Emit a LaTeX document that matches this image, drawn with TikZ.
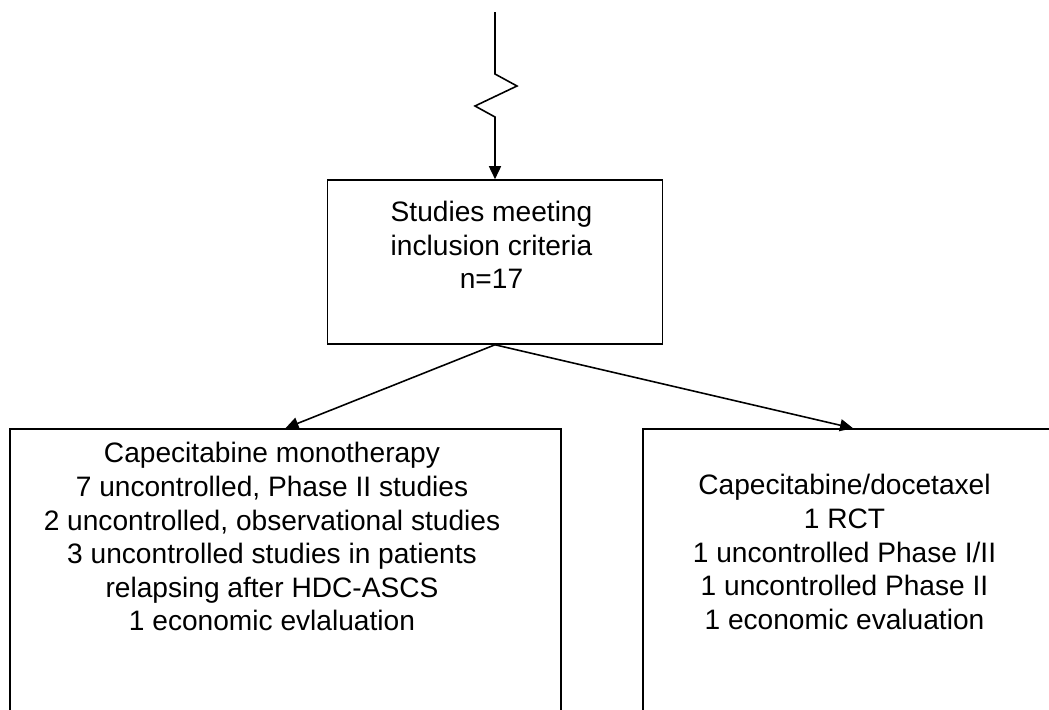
\documentclass[tikz,border=0pt]{standalone}
\usepackage{fontspec}
\setmainfont{Liberation Sans}
\usetikzlibrary{arrows.meta}
\begin{document}
\begin{tikzpicture}[line join=miter, >={Triangle[length=0.26cm,width=0.24cm]},
	studybox/.style={draw, line width=0.9pt, rectangle, inner sep=0pt},
	studytext/.style={align=center, inner sep=0pt, anchor=north, font=\fontsize{16}{19.1}\selectfont}]
			\useasboundingbox (0,0) rectangle (20.98,-14.2);
			\clip (0,0) rectangle (20.98,-14.2);
			\node[studybox, minimum width=6.7cm, minimum height=3.28cm] (mid) at (9.9,-5.24) {};
			\node[studybox, minimum width=11.02cm, minimum height=6.62cm] (lbox) at (5.71,-11.89) {};
			\node[studybox, minimum width=8.4cm, minimum height=6.62cm] (rbox) at (17.06,-11.89) {};
			\node[studytext] (midtxt) at ([xshift=-0.07cm,yshift=-0.43cm]mid.north) {Studies meeting\\inclusion criteria\\n=17};
			\node[studytext] (ltxt) at ([xshift=-0.27cm,yshift=-0.28cm]lbox.north) {Capecitabine monotherapy\\7 uncontrolled, Phase II studies\\2 uncontrolled, observational studies\\3 uncontrolled studies in patients\\relapsing after HDC-ASCS\\1 economic evlaluation};
			\node[studytext] (rtxt) at ([xshift=-0.17cm,yshift=-0.92cm]rbox.north) {Capecitabine/docetaxel\\1 RCT\\1 uncontrolled Phase I/II\\1 uncontrolled Phase II\\1 economic evaluation};
			\coordinate (top) at (9.9,-0.24);
			\coordinate (z1) at (9.9,-1.48);
			\coordinate (z2) at (10.34,-1.72);
			\coordinate (z3) at (9.5,-2.12);
			\coordinate (z4) at (9.9,-2.34);
			\draw[line width=0.9pt, ->] (top)--(z1)--(z2)--(z3)--(z4)--(mid.north);
			\foreach \b in {lbox,rbox}
			\draw[line width=0.9pt, ->] (mid.south)--(\b.north);
			\end{tikzpicture}
\end{document}
